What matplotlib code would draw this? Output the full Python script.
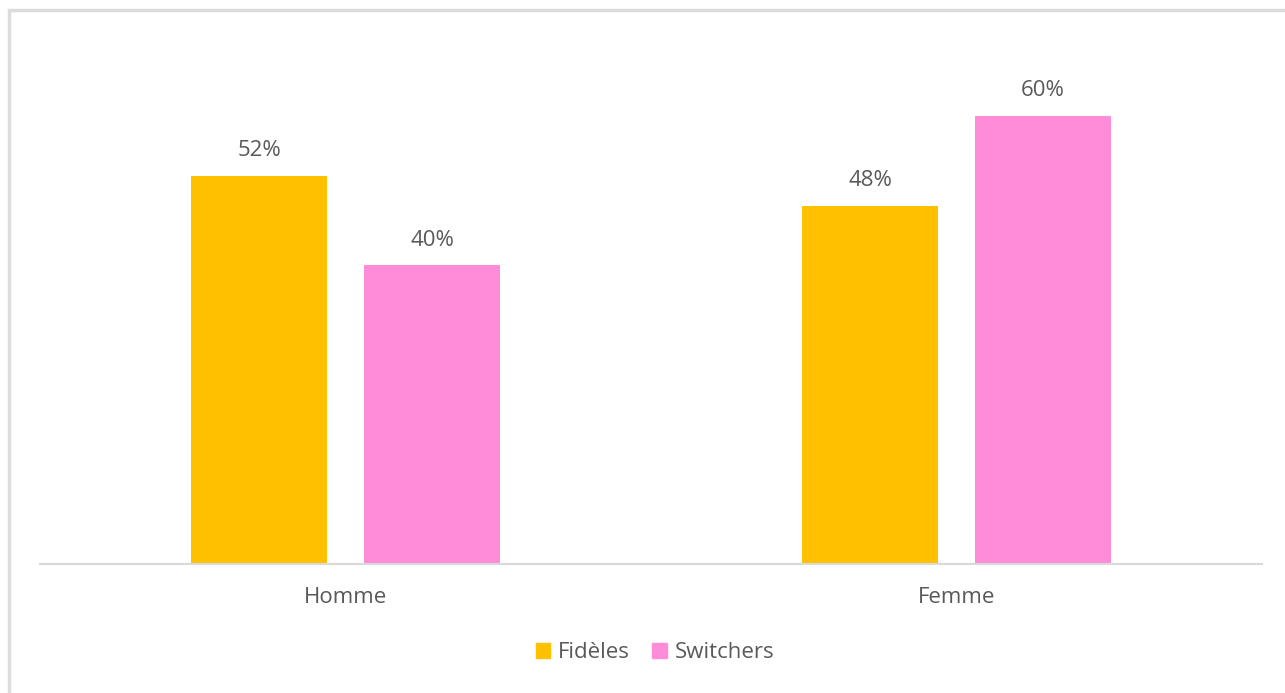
import matplotlib
matplotlib.use("Agg")
import matplotlib.pyplot as plt
from matplotlib.patches import Rectangle
import numpy as np

categories = ["Homme", "Femme"]
series_names = ["Fidèles", "Switchers"]
fideles = [52, 48]
switchers = [40, 60]
colors = ["#FFC000", "#FF8CD8"]

plt.rcParams['font.family'] = ['Open Sans', 'DejaVu Sans']
text_color = "#595959"

W, H = 1285, 693
fig = plt.figure(figsize=(W / 100, H / 100), dpi=100)

# outer light border (left/top visible)
top = 1 - 9.5 / H
fig.add_artist(Rectangle((8.5 / W, -0.1), 1.5, top + 0.1,
                         transform=fig.transFigure, fill=False,
                         edgecolor="#dcdcdc", linewidth=2.5))

ax_left, ax_right = 40 / W, 1262 / W
ax_bottom = 1 - 563.5 / H
ax_top = 1 - 41.5 / H
ax = fig.add_axes([ax_left, ax_bottom, ax_right - ax_left, ax_top - ax_bottom])

x = np.arange(len(categories))
width = 0.224
offset = 0.1415
b1 = ax.bar(x - offset, fideles, width, color=colors[0], label=series_names[0])
b2 = ax.bar(x + offset, switchers, width, color=colors[1], label=series_names[1])

for bars, vals in ((b1, fideles), (b2, switchers)):
    for rect, v in zip(bars, vals):
        ax.annotate(f"{v}%", (rect.get_x() + rect.get_width() / 2, v),
                    xytext=(0, 10.5), textcoords="offset points",
                    ha="center", va="bottom", fontsize=16, color=text_color)

ax.set_xlim(-0.5, 1.5)
ax.set_ylim(0, 70)
ax.set_xticks(x)
ax.set_xticklabels(categories, fontsize=16, color=text_color)
ax.tick_params(axis="x", length=0, pad=17)
ax.set_yticks([])
for s in ["top", "right", "left"]:
    ax.spines[s].set_visible(False)
ax.spines["bottom"].set_color("#d9d9d9")
ax.spines["bottom"].set_linewidth(1.5)

handles = [Rectangle((0, 0), 1, 1, color=c) for c in colors]
fig.legend(handles, series_names, loc="center", bbox_to_anchor=(655 / W, 1 - 653 / H),
           ncol=2, frameon=False, fontsize=16, labelcolor=text_color,
           handlelength=0.65, handleheight=0.65, handletextpad=0.35, columnspacing=1.0)

fig.savefig("out.png", dpi=100, facecolor="white")
